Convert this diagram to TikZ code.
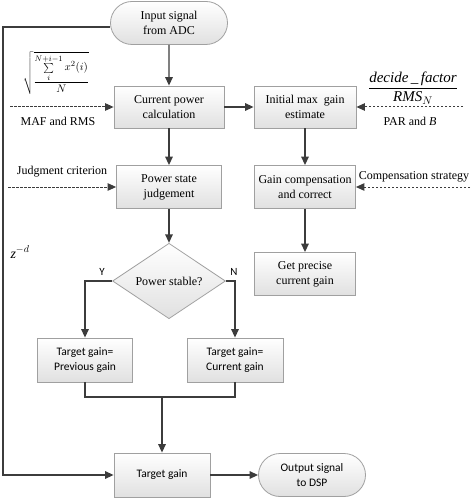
\documentclass[tikz,border=0pt]{standalone}
\usepackage{fontspec}
\setmainfont{Liberation Serif}
\newfontfamily\carl{Carlito}
\usetikzlibrary{shapes.geometric,shapes.misc,arrows.meta}
\definecolor{ln}{HTML}{3C3C3C}
\definecolor{bd}{HTML}{A0A0A0}
\tikzset{
  base/.style={draw=bd, line width=0.8pt, top color=white, bottom color=black!12, align=center, inner sep=0pt},
  box/.style={base, rectangle, font=\fontsize{12}{15}\selectfont},
  sbox/.style={base, rectangle, font=\carl\fontsize{11.5}{15}\selectfont},
  term/.style={base, rounded rectangle},
  arr/.style={draw=ln, line width=1.4pt, -{Triangle[length=8.5pt,width=7.5pt]}},
  plain/.style={draw=ln, line width=1.4pt},
  darr/.style={draw=ln, line width=1pt, dashed, dash pattern=on 2.5pt off 1.5pt, -{Triangle[length=8.5pt,width=7.5pt]}},
  lbl/.style={font=\fontsize{12}{14}\selectfont, inner sep=0pt},
}
\begin{document}
\begin{tikzpicture}[x=1pt,y=-1pt]
\useasboundingbox (0,0) rectangle (474,500);
% main column
\node[term, minimum width=117pt, minimum height=43pt, font=\fontsize{12}{15}\selectfont] (in) at (169,23) {Input signal\\from ADC};
\node[box, minimum width=110pt, minimum height=42pt] (cp) at (169,107) {Current power\\calculation};
\node[box, minimum width=102pt, minimum height=42pt] (im) at (305,107) {Initial max\ \ gain\\estimate};
\node[box, minimum width=105pt, minimum height=43pt] (ps) at (169,187) {Power state\\judgement};
\node[box, minimum width=101pt, minimum height=43pt] (ic) at (305,187) {Gain compensation\\and correct};
\node[box, minimum width=101pt, minimum height=43pt] (gp) at (305,274) {Get precise\\current gain};
\node[base, diamond, minimum width=113pt, minimum height=66pt, font=\fontsize{12}{15}\selectfont] (dia) at (169,281) {Power stable?};
\node[sbox, minimum width=95pt, minimum height=44pt] (pg) at (85,360) {Target gain=\\Previous gain};
\node[sbox, minimum width=96pt, minimum height=44pt] (cg) at (235,360) {Target gain=\\Current gain};
\node[sbox, minimum width=96pt, minimum height=44pt] (tg) at (162,475) {Target gain};
\node[term, minimum width=107pt, minimum height=43pt, font=\carl\fontsize{11.5}{15}\selectfont] (out) at (312,475) {Output signal\\to DSP};
% labels
\node[inner sep=0pt] (form) at (56,73) {\fontsize{11}{13}\selectfont$\sqrt{\displaystyle\frac{\sum\limits_{i}^{N+i-1} x^{2}(i)}{N}}$};
\node[lbl] (maf) at (58,121) {MAF and RMS};
\node[lbl] (jc) at (62,172) {Judgment criterion};
\node[inner sep=0pt] (frac) at (413,88) {\fontsize{15}{18}\selectfont$\displaystyle\frac{\textit{decide\,\_\,factor}}{\textit{RMS}_{N}}$};
\node[lbl] (par) at (410,121) {PAR and \textit{B}};
\node[lbl] (cs) at (414,177) {Compensation strategy};
\node[inner sep=0pt] (zd) at (20,252) {\fontsize{14}{16}\selectfont\textit{z}$^{-d}$};
\node[font=\carl\fontsize{11}{13}\selectfont, inner sep=0pt] (ylab) at (102,272) {Y};
\node[font=\carl\fontsize{11}{13}\selectfont, inner sep=0pt] (nlab) at (234,272) {N};
% coordinates
\coordinate (d1) at (10,107);
\coordinate (d2) at (8,187);
\coordinate (d3) at (463,107);
\coordinate (d4) at (470,187);
\coordinate (fb1) at (3,27);
\coordinate (fb2) at (3,475);
\coordinate (m) at (162,397);
% connectors
\draw[arr] (in) -- (cp);
\draw[arr] (cp) -- (ps);
\draw[arr] (ps) -- (dia);
\draw[arr] (cp) -- (im);
\draw[arr] (im) -- (ic);
\draw[arr] (ic) -- (gp);
\draw[arr] (dia.west) -| (pg.north);
\draw[arr] (dia.east) -| (cg.north);
\draw[plain] (pg.south) |- (m) -| (cg.south);
\draw[arr] (m) -- (tg.north);
\draw[arr] (tg) -- (out);
\draw[arr] ([yshift=-4pt]in.west) -- (fb1) -- (fb2) -- (tg.west);
\draw[darr] (d1) -- (cp.west);
\draw[darr] (d2) -- (ps.west);
\draw[darr] (d3) -- (im.east);
\draw[darr] (d4) -- (ic.east);
\end{tikzpicture}
\end{document}
